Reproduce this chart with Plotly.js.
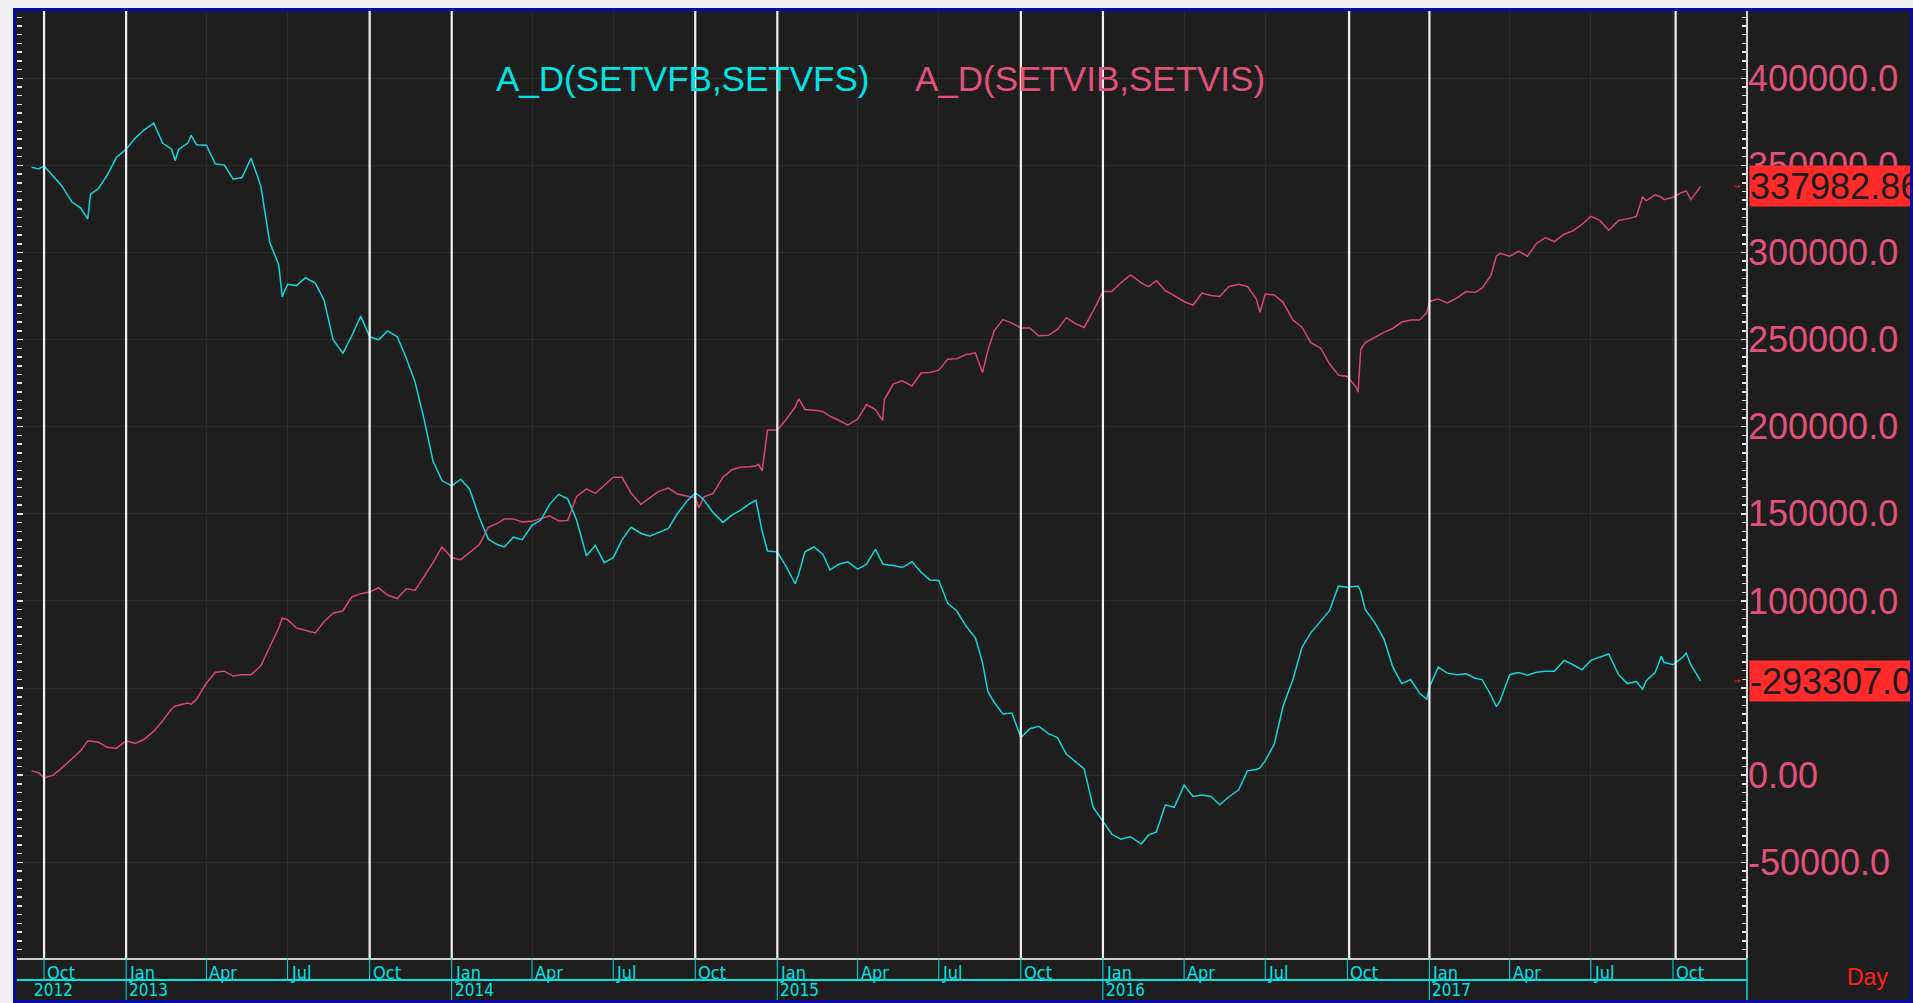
<!DOCTYPE html>
<html><head><meta charset="utf-8">
<script src="https://cdn.plot.ly/plotly-3.0.1.min.js"></script>
<style>
html,body{margin:0;padding:0;background:#f0f0f0;width:1913px;height:1003px;overflow:hidden}
#chart{position:absolute;left:13px;top:8px;width:1894px;height:989px;border:3px solid #0a0aa8;background:#1e1e1e}
</style></head><body><div id="chart"></div>
<script>
const dates = [
'2012-09-17','2012-09-25','2012-10-01','2012-10-11','2012-10-21','2012-11-01','2012-11-11','2012-11-19','2012-11-22','2012-12-01','2012-12-11','2012-12-21',
'2013-01-01','2013-01-11','2013-01-21','2013-02-01','2013-02-11','2013-02-21','2013-02-25','2013-03-01','2013-03-11','2013-03-15','2013-03-21','2013-04-01','2013-04-11','2013-04-21','2013-05-01','2013-05-11','2013-05-21','2013-06-01','2013-06-11','2013-06-21','2013-06-25','2013-07-01','2013-07-11','2013-07-21','2013-08-01','2013-08-11','2013-08-21','2013-09-01','2013-09-11','2013-09-21','2013-10-01','2013-10-11','2013-10-21','2013-11-01','2013-11-11','2013-11-21','2013-12-01','2013-12-11','2013-12-21',
'2014-01-01','2014-01-11','2014-01-21','2014-02-01','2014-02-11','2014-02-21','2014-03-01','2014-03-11','2014-03-21','2014-04-01','2014-04-11','2014-04-21','2014-05-01','2014-05-11','2014-05-21','2014-06-01','2014-06-11','2014-06-21','2014-07-01','2014-07-11','2014-07-21','2014-08-01','2014-08-11','2014-08-21','2014-09-01','2014-09-11','2014-09-21','2014-10-01','2014-10-05','2014-10-11','2014-10-21','2014-11-01','2014-11-11','2014-11-21','2014-12-01','2014-12-08','2014-12-11','2014-12-15','2014-12-21',
'2015-01-01','2015-01-11','2015-01-21','2015-01-25','2015-02-01','2015-02-11','2015-02-21','2015-03-01','2015-03-11','2015-03-21','2015-04-01','2015-04-11','2015-04-21','2015-04-29','2015-05-01','2015-05-11','2015-05-21','2015-06-01','2015-06-11','2015-06-21','2015-07-01','2015-07-11','2015-07-21','2015-08-01','2015-08-11','2015-08-19','2015-08-25','2015-09-01','2015-09-11','2015-09-21','2015-10-01','2015-10-11','2015-10-21','2015-11-01','2015-11-11','2015-11-21','2015-12-01','2015-12-11','2015-12-21',
'2016-01-01','2016-01-11','2016-01-21','2016-02-01','2016-02-13','2016-02-21','2016-03-01','2016-03-11','2016-03-21','2016-04-01','2016-04-11','2016-04-21','2016-05-01','2016-05-11','2016-05-21','2016-06-01','2016-06-11','2016-06-21','2016-06-25','2016-07-01','2016-07-11','2016-07-21','2016-08-01','2016-08-11','2016-08-21','2016-09-01','2016-09-11','2016-09-21','2016-10-01','2016-10-11','2016-10-13','2016-10-16','2016-10-21','2016-11-01','2016-11-11','2016-11-21','2016-12-01','2016-12-11','2016-12-21','2016-12-29',
'2017-01-01','2017-01-11','2017-01-21','2017-02-01','2017-02-11','2017-02-21','2017-03-01','2017-03-11','2017-03-17','2017-03-21','2017-04-01','2017-04-11','2017-04-21','2017-05-01','2017-05-11','2017-05-21','2017-06-01','2017-06-11','2017-06-21','2017-07-01','2017-07-11','2017-07-21','2017-08-01','2017-08-11','2017-08-21','2017-08-28','2017-09-01','2017-09-11','2017-09-18','2017-09-21','2017-10-01','2017-10-11','2017-10-16','2017-10-21','2017-11-01'
];

// A_D(SETVIB,SETVIS) - pink, plotted on the visible right scale
const setviValues = [
2500,1400,-1500,-100,4200,9200,14000,19700,19700,18900,16000,15400,
19700,18300,20500,25300,31200,38000,39700,40200,41400,40800,43600,52900,59100,59700,56900,57700,57700,62800,74100,84500,90100,89300,84500,83100,81700,88200,93000,94400,102300,104200,105100,107600,103400,101400,107000,106200,114100,122000,131000,
124800,123700,127600,132400,142300,144500,147100,147100,145400,145700,147400,148800,145900,146200,160000,164300,161700,166500,171000,171000,162000,155500,159200,162900,164800,161400,160300,159200,153600,159800,161700,171000,175300,176700,177000,177500,178400,174700,198100,
198100,204300,211300,216100,209900,209400,208800,206000,203700,200900,204300,212700,209900,203700,215600,224600,226300,223400,230800,231100,232500,238700,239000,241500,242300,231100,243700,255000,261500,259500,256700,256700,252200,252500,255900,262600,259200,257000,266300,
277600,277600,282600,287100,282600,280400,283800,278100,275300,271900,269700,276700,275300,274700,280400,281800,280400,273300,265700,276200,275600,271400,261200,257300,248300,245200,236100,229700,228800,222600,219800,244300,248300,251600,254200,256400,260100,261200,261200,265400,
271900,273300,271100,273900,277600,277000,279500,286900,297900,299500,297900,300700,297900,305200,308600,306300,310500,312500,316200,320700,318400,312800,318400,319300,320700,332000,329700,333100,331700,330300,331700,334500,335300,330300,337982.86
];

// A_D(SETVFB,SETVFS) - cyan, plotted on its own hidden scale
const setvfValues = [
1500,600,2300,-3600,-9200,-18300,-21900,-28100,-14000,-10600,-2800,7100,
11900,18100,22900,26800,15300,11900,5400,11900,15300,19800,14400,14200,3400,2900,-5300,-4400,6800,-9200,-41700,-54300,-72700,-65600,-66400,-61900,-65000,-74900,-97500,-105300,-95200,-83900,-95800,-97500,-92400,-95800,-107900,-122000,-143100,-167100,-178300,
-181400,-177500,-183100,-199500,-211900,-215000,-216400,-210800,-212200,-204000,-200900,-191800,-186200,-188800,-200900,-221500,-215600,-225400,-222600,-212200,-205100,-208500,-210200,-207900,-205700,-197200,-190500,-185400,-186800,-189600,-196700,-202300,-198100,-195300,-191600,-189600,-196700,-207400,-218700,
-219200,-227700,-237500,-231900,-219200,-216400,-220600,-229600,-226300,-224900,-229100,-226300,-217800,-226000,-226500,-227100,-228200,-224900,-230800,-235300,-235600,-248800,-253000,-262100,-268500,-282600,-299300,-305500,-312200,-311700,-325800,-320700,-319300,-323500,-325800,-335300,-339600,-343800,-365800,
-373700,-381300,-384100,-382700,-386900,-381800,-379900,-364400,-365800,-353100,-359600,-358700,-359600,-364400,-359900,-355900,-344900,-344100,-343200,-339000,-329700,-307700,-292500,-274200,-265700,-258700,-253000,-238900,-239500,-238900,-238900,-241800,-252200,-260100,-269100,-285400,-294800,-292500,-300400,-303800,
-296700,-285400,-288800,-289700,-289200,-291700,-292500,-301500,-308000,-304900,-289700,-288500,-290000,-288300,-287700,-287700,-281500,-284000,-286900,-281500,-279800,-277800,-289700,-294800,-293600,-298100,-293100,-288500,-279200,-282600,-284000,-280100,-277300,-284000,-293307
];

const seriesNames = ['A_D(SETVFB,SETVFS)', 'A_D(SETVIB,SETVIS)'];
const lastViLabel = '337982.86';
const lastVfLabel = '-293307.0';

const quarterDates = ['2012-10-01','2013-01-01','2013-04-01','2013-07-01','2013-10-01','2014-01-01','2014-04-01','2014-07-01','2014-10-01','2015-01-01','2015-04-01','2015-07-01','2015-10-01','2016-01-01','2016-04-01','2016-07-01','2016-10-01','2017-01-01','2017-04-01','2017-07-01','2017-10-01'];
const quarterLabels = ['Oct','Jan','Apr','Jul','Oct','Jan','Apr','Jul','Oct','Jan','Apr','Jul','Oct','Jan','Apr','Jul','Oct','Jan','Apr','Jul','Oct'];
const yearDates = ['2012-09-16','2013-01-01','2014-01-01','2015-01-01','2016-01-01','2017-01-01'];
const yearLabels = ['2012','2013','2014','2015','2016','2017'];
const markerDates = ['2012-10-01','2013-01-01','2013-10-01','2014-01-01','2014-10-01','2015-01-01','2015-10-01','2016-01-01','2016-10-03','2017-01-01','2017-10-04'];

const yTickVals = [-50000,0,50000,100000,150000,200000,250000,300000,350000,400000];
const yTickText = ['-50000.0','0.00','50000.0','100000.0','150000.0','200000.0','250000.0','300000.0','350000.0','400000.0'];

const PINK = '#e0527a', PINK_LINE = '#d9486f', CYAN = '#00e4e4', CYAN_LINE = '#12d6da';
const NARROW = '"Liberation Sans Narrow","DejaVu Sans Condensed","Arial Narrow",sans-serif';
const SANS = '"Liberation Sans",Arial,sans-serif';

const Y_MONTH = -0.0150, Y_SPLIT = -0.0232, Y_YEAR = -0.0335, Y_BOTTOM = -0.0444;

const traces = [
  {x: dates, y: setviValues, type: 'scatter', mode: 'lines', name: seriesNames[1], yaxis: 'y',
   line: {color: PINK_LINE, width: 1.5}},
  {x: dates, y: setvfValues, type: 'scatter', mode: 'lines', name: seriesNames[0], yaxis: 'y2',
   line: {color: CYAN_LINE, width: 1.5}}
];

const shapes = [];
markerDates.forEach(d => shapes.push({type: 'line', xref: 'x', yref: 'paper', x0: d, x1: d, y0: 0, y1: 1,
  layer: 'above', line: {color: '#f2f2f2', width: 2.2}}));
quarterDates.forEach((d, i) => shapes.push({type: 'line', xref: 'x', yref: 'paper', x0: d, x1: d,
  y0: quarterLabels[i] === 'Jan' ? Y_BOTTOM : Y_SPLIT, y1: 0, line: {color: CYAN, width: 1}}));
shapes.push({type: 'line', xref: 'paper', yref: 'paper', x0: 0, x1: 1, y0: Y_SPLIT, y1: Y_SPLIT, line: {color: CYAN, width: 2}});
shapes.push({type: 'line', xref: 'paper', yref: 'paper', x0: 1, x1: 1, y0: Y_BOTTOM, y1: 0, line: {color: CYAN, width: 1.5}});
shapes.push({type: 'line', xref: 'paper', yref: 'paper', x0: 1, x1: 1, y0: 0, y1: 1, layer: 'above', line: {color: '#d8d8d8', width: 2}});

const annotations = [];
quarterDates.forEach((d, i) => annotations.push({xref: 'x', yref: 'paper', x: d, y: Y_MONTH, xanchor: 'left', yanchor: 'middle',
  xshift: 1, text: quarterLabels[i], showarrow: false, font: {family: NARROW, size: 18, color: CYAN}}));
yearDates.forEach((d, i) => annotations.push({xref: 'x', yref: 'paper', x: d, y: Y_YEAR, xanchor: 'left', yanchor: 'middle',
  xshift: 1, text: yearLabels[i], showarrow: false, font: {family: NARROW, size: 17, color: CYAN}}));
annotations.push({xref: 'paper', yref: 'paper', x: 0.2757, y: 0.929, xanchor: 'left', yanchor: 'middle', showarrow: false,
  text: seriesNames[0], font: {family: SANS, size: 35, color: CYAN}});
annotations.push({xref: 'paper', yref: 'paper', x: 0.5179, y: 0.929, xanchor: 'left', yanchor: 'middle', showarrow: false,
  text: seriesNames[1], font: {family: SANS, size: 35, color: PINK}});
annotations.push({xref: 'paper', yref: 'paper', x: 1.0694, y: -0.0201, xanchor: 'center', yanchor: 'middle', showarrow: false,
  text: 'Day', font: {family: SANS, size: 23, color: '#ff2020'}});
// last-value boxes
annotations.push({xref: 'paper', yref: 'y', x: 1, y: setviValues[setviValues.length - 1], xanchor: 'left', yanchor: 'middle', xshift: 2,
  showarrow: false, text: lastViLabel, align: 'left', width: 175, height: 40, borderpad: 0, bgcolor: '#ff2a2a',
  font: {family: SANS, size: 36, color: '#1c1c1c'}});
annotations.push({xref: 'paper', yref: 'y2', x: 1, y: setvfValues[setvfValues.length - 1], xanchor: 'left', yanchor: 'middle', xshift: 2,
  showarrow: false, text: lastVfLabel, align: 'left', width: 175, height: 40, borderpad: 0, bgcolor: '#ff2a2a',
  font: {family: SANS, size: 36, color: '#1c1c1c'}});
// small arrows
annotations.push({xref: 'paper', yref: 'y', x: 1, y: setviValues[setviValues.length - 1], xshift: -6, text: '', showarrow: true,
  ax: -8, ay: 0, arrowhead: 2, arrowsize: 0.6, arrowwidth: 1, arrowcolor: '#e02020'});
annotations.push({xref: 'paper', yref: 'y2', x: 1, y: setvfValues[setvfValues.length - 1], xshift: -6, text: '', showarrow: true,
  ax: -8, ay: 0, arrowhead: 2, arrowsize: 0.6, arrowwidth: 1, arrowcolor: '#e02020'});

const layout = {
  width: 1894, height: 989,
  margin: {l: 1, r: 163, t: 0, b: 42, pad: 0},
  paper_bgcolor: '#1e1e1e', plot_bgcolor: '#1e1e1e',
  showlegend: false, hovermode: false,
  xaxis: {type: 'date', range: ['2012-08-31 16:00', '2017-12-23'], tickvals: quarterDates, showticklabels: false,
    ticks: '', showgrid: true, gridcolor: '#2b2b2b', gridwidth: 1, zeroline: false,
    showline: true, linecolor: '#cfcfcf', linewidth: 2, mirror: false},
  yaxis: {range: [-104900, 438600], side: 'right', tickvals: yTickVals, ticktext: yTickText,
    tickfont: {family: SANS, size: 36, color: PINK}, showgrid: true, gridcolor: '#2b2b2b', zeroline: false,
    ticks: 'inside', ticklen: 6, tickwidth: 1.5, tickcolor: '#e6e6e6', mirror: 'ticks', showline: false,
    minor: {dtick: 5000, ticks: 'inside', ticklen: 5, tickwidth: 1.5, tickcolor: '#e6e6e6', showgrid: false}},
  yaxis2: {range: [-452300, 91200], overlaying: 'y', side: 'right', visible: false},
  shapes: shapes, annotations: annotations
};

Plotly.newPlot('chart', traces, layout, {staticPlot: true, displayModeBar: false});
</script></body></html>
